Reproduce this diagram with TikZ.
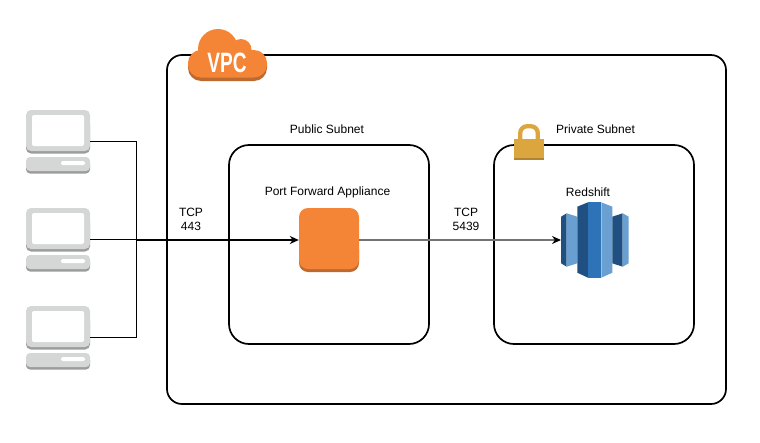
\documentclass[tikz,border=0pt]{standalone}
\usepackage{fontspec}
\setmainfont{Liberation Sans}
\usetikzlibrary{arrows.meta}
\definecolor{awsorange}{HTML}{F58536}
\definecolor{awsorangedark}{HTML}{BC6A2F}
\definecolor{lockgold}{HTML}{DCA63F}
\definecolor{lockdark}{HTML}{B08432}
\definecolor{pcgrey}{HTML}{D5D6D6}
\definecolor{pcdark}{HTML}{9C9C9C}
\definecolor{rsdark}{HTML}{205081}
\definecolor{rsmid}{HTML}{2E73B8}
\definecolor{rslight}{HTML}{6A9FD2}
\tikzset{
  every node/.style={font=\fontsize{12}{14}\selectfont, align=center, inner sep=0pt},
  subnet/.style={draw, line width=1.7pt, rounded corners=20pt, minimum width=200pt, minimum height=199pt},
  monitor/.style={fill=pcgrey, rounded corners=5pt, minimum width=64pt, minimum height=41pt},
  tower/.style={fill=pcgrey, rounded corners=4pt, minimum width=64pt, minimum height=14pt},
  screen/.style={fill=white, rounded corners=2pt, minimum width=52pt, minimum height=31pt},
  wire/.style={line width=1pt},
  tip/.style={-{Stealth[length=9pt,width=8pt,color=black]}},
}
\begin{document}
\begin{tikzpicture}[x=1pt,y=-1pt]
\useasboundingbox (0,0) rectangle (760,442);
% boxes
\node[subnet, rounded corners=15pt, minimum width=559pt, minimum height=349pt] (vpc) at (446.5,229.5) {};
\node[subnet] (public) at (329,244.5) {};
\node[subnet] (private) at (594,244.5) {};
\node (publiclabel) at (327,129) {Public Subnet};
\node (privatelabel) at (595.5,129) {Private Subnet};
% vpc cloud
\fill[awsorangedark, rounded corners=13pt] (188,52) rectangle (267,81);
\fill[awsorange, rounded corners=13pt] (188,50) rectangle (267,77.5);
\fill[awsorange] (218,49) circle (20) (241,49.5) circle (10.5);
\node[text=white, font=\fontsize{28}{28}\selectfont\bfseries, xscale=.68] (vpclabel) at (227,62.5) {VPC};
% lock
\draw[lockgold, line width=4.3pt, rounded corners=7pt] (520.2,141) -- (520.2,126.2) -- (537.8,126.2) -- (537.8,141);
\fill[lockgold] (514,139) rectangle (544,158);
\fill[lockdark] (514,158) rectangle (544,160);
% computers
\foreach \i/\dy in {1/0,2/98,3/196} {
  \fill[pcdark, rounded corners=5pt] (26,120+\dy) rectangle (90,153.5+\dy);
  \node[monitor] (monitor\i) at (58,130.5+\dy) {};
  \node[screen] (screen\i) at (58,130.5+\dy) {};
  \fill[pcdark, rounded corners=4pt] (26,160+\dy) rectangle (90,173.5+\dy);
  \node[tower] (tower\i) at (58,164+\dy) {};
  \fill[white, rounded corners=1.5pt] (61,161+\dy) rectangle (85,165+\dy);
  \coordinate (link\i) at (90,141.5+\dy);
  \coordinate (bus\i) at (136.5,141.5+\dy);
}
% appliance
\fill[awsorangedark, rounded corners=9pt] (299,240) rectangle (359,272);
\node[fill=awsorange, rounded corners=9pt, minimum width=60pt, minimum height=61pt] (appliance) at (329,238.5) {};
\node (appliancelabel) at (327.5,192) {Port Forward Appliance};
% redshift
\fill[rsdark] (561,216.7) -- (566.7,213.3) -- (566.7,266.7) -- (561,263.3) -- cycle;
\fill[rslight] (566.7,213.3) -- (577.3,216.7) -- (577.3,263.3) -- (566.7,266.7) -- cycle;
\fill[rsdark] (577.3,206.7) -- (588,202.3) -- (588,277.7) -- (577.3,272.7) -- cycle;
\fill[rsmid] (588,202.3) rectangle (601.3,277.7);
\fill[rslight] (601.3,202.3) -- (612.3,206.7) -- (612.3,272.7) -- (601.3,277.7) -- cycle;
\fill[rsdark] (612.3,216.7) -- (622.7,213.3) -- (622.7,266.7) -- (612.3,263.3) -- cycle;
\fill[rslight] (622.7,213.3) -- (628.7,216.7) -- (628.7,263.3) -- (622.7,266.7) -- cycle;
\coordinate (redshift) at (561,240);
\node (redshiftlabel) at (588,192) {Redshift};
% connectors
\draw[wire] (link1) -- (bus1) -- (bus3) -- (link3);
\draw[wire] (link2) -- (bus2);
\draw[line width=1.7pt, tip] (bus2 |- 0,240) -- (appliance.west |- 0,240);
\draw[line width=1.4pt, black!55, tip] (appliance.east |- 0,240) -- (redshift);
\node (tcpa) at (191,219) {TCP\\443};
\node (tcpb) at (466,219) {TCP\\5439};
\end{tikzpicture}
\end{document}
